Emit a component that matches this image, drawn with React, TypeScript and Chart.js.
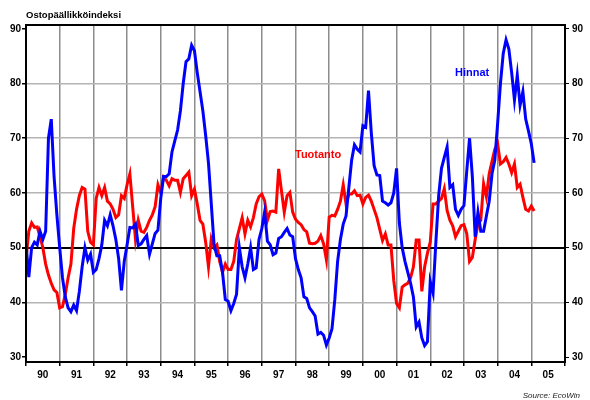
import React, { useEffect, useRef } from 'react';
import { Chart, registerables } from 'chart.js';

Chart.register(...registerables);

const YEAR_LABELS = ['90', '91', '92', '93', '94', '95', '96', '97', '98', '99', '00', '01', '02', '03', '04', '05'];
const Y_TICKS = [30, 40, 50, 60, 70, 80, 90];

// Monthly values, Jan 1990 .. Feb 2005
const HINNAT = [
  50.8, 44.6, 50, 51, 50.5, 53, 51.5, 53, 70, 73.5, 63, 56,
  50, 44.5, 41, 39, 38.3, 39.5, 38.5, 42, 46.5, 50, 47.7, 48.8,
  45.5, 46, 48, 50.5, 55, 54, 56, 54, 51.5, 48, 42.2, 47.5,
  50.5, 53.7, 53.6, 54.3, 50.4, 50.7, 51.5, 52.2, 48.8, 50.7, 52.6, 53.2,
  59, 63, 63, 63.5, 67.5, 69.5, 71.5, 75, 80, 84, 84.5, 87,
  86, 82, 78.5, 75, 70.5, 65.5, 58, 50.5, 48.5, 48.5, 45.5, 40.5,
  40.2, 38.5, 39.8, 41.5, 50, 46.5, 44.5, 47, 50, 46, 46.3, 51.5,
  53.5, 56.5, 51.2, 50.5, 48.7, 49, 51.7, 52, 52.8, 53.5, 52.3, 52,
  48, 46, 44.5, 41, 40.7, 39, 38.3, 37.5, 34.2, 34.5, 34, 32.2,
  33.5, 35.2, 40.5, 47.5, 51.5, 54.3, 55.8, 61, 66, 68.8, 68, 67.5,
  72.3, 72, 78.7, 71, 65, 63.3, 63.2, 58.5, 58.2, 57.8, 58.2, 60,
  64.5, 54.5, 50, 47.5, 45.5, 43.5, 41, 35.5, 36.4, 33.5, 32.1, 32.8,
  43.8, 41.7, 51, 59.5, 64.5, 66.5, 68.4, 61, 61.5, 57, 55.9, 57,
  57.7, 64, 70, 63, 52, 56.5, 53, 53, 55.8, 58.5, 63.5, 66,
  72.7, 80, 85.5, 88, 86.3, 82, 77, 81.5, 76, 78.5, 73.5, 71.3,
  69, 65.5,
];

const TUOTANTO = [
  48, 53, 54.5, 53.7, 53.8, 52, 50, 47, 45, 43.5, 42.3, 41.8,
  39, 39.2, 41.5, 44.5, 47, 53.5, 57, 59.5, 61, 60.7, 53, 51,
  50.5, 59, 61, 59.5, 61, 58.5, 58, 57, 55.5, 56, 59.5, 59,
  61.5, 63.5, 57.5, 51.5, 55, 53, 52.8, 53.7, 55, 56, 57.5, 61.5,
  60, 62.9, 62.3, 61.3, 62.6, 62.3, 62.3, 60.1, 62.6, 63.2, 63.8, 59.5,
  60.7, 58, 55, 54.3, 51, 46.5, 51.6, 50, 50.5, 47.5, 45.5, 47,
  46, 46, 47.5, 51.5, 53.5, 55.5, 52.5, 55, 53.8, 55.5, 58, 59.3,
  59.8, 58.6, 55, 56.6, 56.7, 56.5, 64.4, 60.4, 56.5, 59.5, 60.1, 56.5,
  55.2, 54.6, 54.2, 53.3, 52.9, 50.8, 50.7, 50.8, 51.2, 52.2, 50.7, 47.8,
  55.6, 55.9, 55.8, 57, 58.5, 61.5, 58, 59.8, 59.8, 60.4, 59.5, 59.6,
  58, 59.2, 59.6, 58.5, 57, 55.5, 53.4, 51.3, 52.5, 50.5, 50.5, 44,
  39.8, 39, 42.8, 43.2, 43.5, 44.5, 46.5, 51.4, 51.4, 42, 46.5, 49,
  51, 58, 58, 58.5, 59, 60.8, 56.8, 55, 54, 52, 53, 54,
  54.2, 52.6, 47.5, 48.2, 51.5, 54.3, 55, 61.7, 59.3, 63.5, 65.8, 68,
  69, 65.3, 65.7, 66.5, 65.3, 63.7, 65.3, 61, 61.6, 59.2, 57, 56.7,
  57.6, 56.7,
];

const FONT = "'Liberation Sans', Arial, sans-serif";

export default function App() {
  const ref = useRef<HTMLCanvasElement>(null);

  useEffect(() => {
    document.body.style.margin = '0';
    const textPlugin = {
      id: 'texts',
      afterDraw(chart: any) {
        const { ctx, chartArea } = chart;
        ctx.save();
        ctx.strokeStyle = '#000';
        ctx.lineWidth = 2;
        ctx.strokeRect(chartArea.left, chartArea.top, chartArea.right - chartArea.left, chartArea.bottom - chartArea.top);
        ctx.textBaseline = 'middle';
        ctx.textAlign = 'left';
        ctx.fillStyle = '#000';
        ctx.font = `bold 9.5px ${FONT}`;
        ctx.fillText('Ostopäällikköindeksi', 26, 15);
        ctx.font = `bold 11px ${FONT}`;
        ctx.fillStyle = '#0000ff';
        ctx.fillText('Hinnat', 455, 73);
        ctx.fillStyle = '#ff0000';
        ctx.fillText('Tuotanto', 295, 155);
        ctx.font = `italic 8px ${FONT}`;
        ctx.fillStyle = '#222';
        ctx.textAlign = 'right';
        ctx.fillText('Source: EcoWin', 580, 396);
        ctx.restore();
      },
    };

    const yTicks = (s: any) => {
      s.ticks = Y_TICKS.map((v) => ({ value: v }));
    };

    const chart = new Chart(ref.current as HTMLCanvasElement, {
      type: 'line',
      data: {
        datasets: [
          {
            label: 'Hinnat',
            data: HINNAT.map((v, i) => ({ x: i, y: v })),
            borderColor: '#0000ff',
            borderWidth: 3,
            pointRadius: 0,
            tension: 0,
            fill: false,
            yAxisID: 'y',
          },
          {
            label: 'Tuotanto',
            data: TUOTANTO.map((v, i) => ({ x: i, y: v })),
            borderColor: '#ff0000',
            borderWidth: 3,
            pointRadius: 0,
            tension: 0,
            fill: false,
            yAxisID: 'y',
          },
        ],
      },
      options: {
        animation: false,
        responsive: false,
        devicePixelRatio: 1,
        layout: { padding: { top: 25, left: 0, right: 0, bottom: 0 } },
        plugins: {
          legend: { display: false },
          tooltip: { enabled: false },
        },
        scales: {
          x: {
            type: 'linear',
            min: 0,
            max: 192,
            afterBuildTicks: (s: any) => {
              const t = [];
              for (let v = 0; v <= 192; v += 6) t.push({ value: v });
              s.ticks = t;
            },
            afterFit: (s: any) => {
              s.height = 38;
            },
            border: { display: false },
            grid: {
              color: (c: any) => (c.tick && c.tick.value % 12 === 0 ? '#8c8c8c' : 'rgba(0,0,0,0)'),
              tickColor: (c: any) => (c.tick && c.tick.value % 12 === 0 ? '#000' : 'rgba(0,0,0,0)'),
              lineWidth: 1.5,
              tickLength: 4,
            },
            ticks: {
              autoSkip: false,
              maxRotation: 0,
              minRotation: 0,
              padding: 3,
              color: '#000',
              font: { family: FONT, size: 10, weight: 'bold' },
              callback: (value: any) => {
                const v = Number(value);
                return v % 12 === 6 ? YEAR_LABELS[(v - 6) / 12] : '';
              },
            },
          },
          y: {
            position: 'left',
            min: 29.1,
            max: 90.7,
            afterBuildTicks: yTicks,
            afterFit: (s: any) => {
              s.width = 26;
            },
            border: { display: false },
            grid: {
              color: (c: any) => {
                const v = c.tick && c.tick.value;
                if (v === 50) return '#000';
                if (v === 30 || v === 90) return 'rgba(0,0,0,0)';
                return '#b4b4b4';
              },
              lineWidth: (c: any) => (c.tick && c.tick.value === 50 ? 2 : 1.5),
              tickColor: '#000',
              tickLength: 4,
            },
            ticks: {
              padding: 1,
              color: '#000',
              font: { family: FONT, size: 10, weight: 'bold' },
            },
          },
          y2: {
            position: 'right',
            min: 29.1,
            max: 90.7,
            afterBuildTicks: yTicks,
            afterFit: (s: any) => {
              s.width = 25;
            },
            border: { display: false },
            grid: {
              drawOnChartArea: false,
              tickColor: '#000',
              tickLength: 4,
            },
            ticks: {
              padding: 3,
              color: '#000',
              font: { family: FONT, size: 10, weight: 'bold' },
            },
          },
        },
      } as any,
      plugins: [textPlugin],
    });
    return () => chart.destroy();
  }, []);

  return <canvas ref={ref} width={590} height={400} style={{ display: 'block' }} />;
}
